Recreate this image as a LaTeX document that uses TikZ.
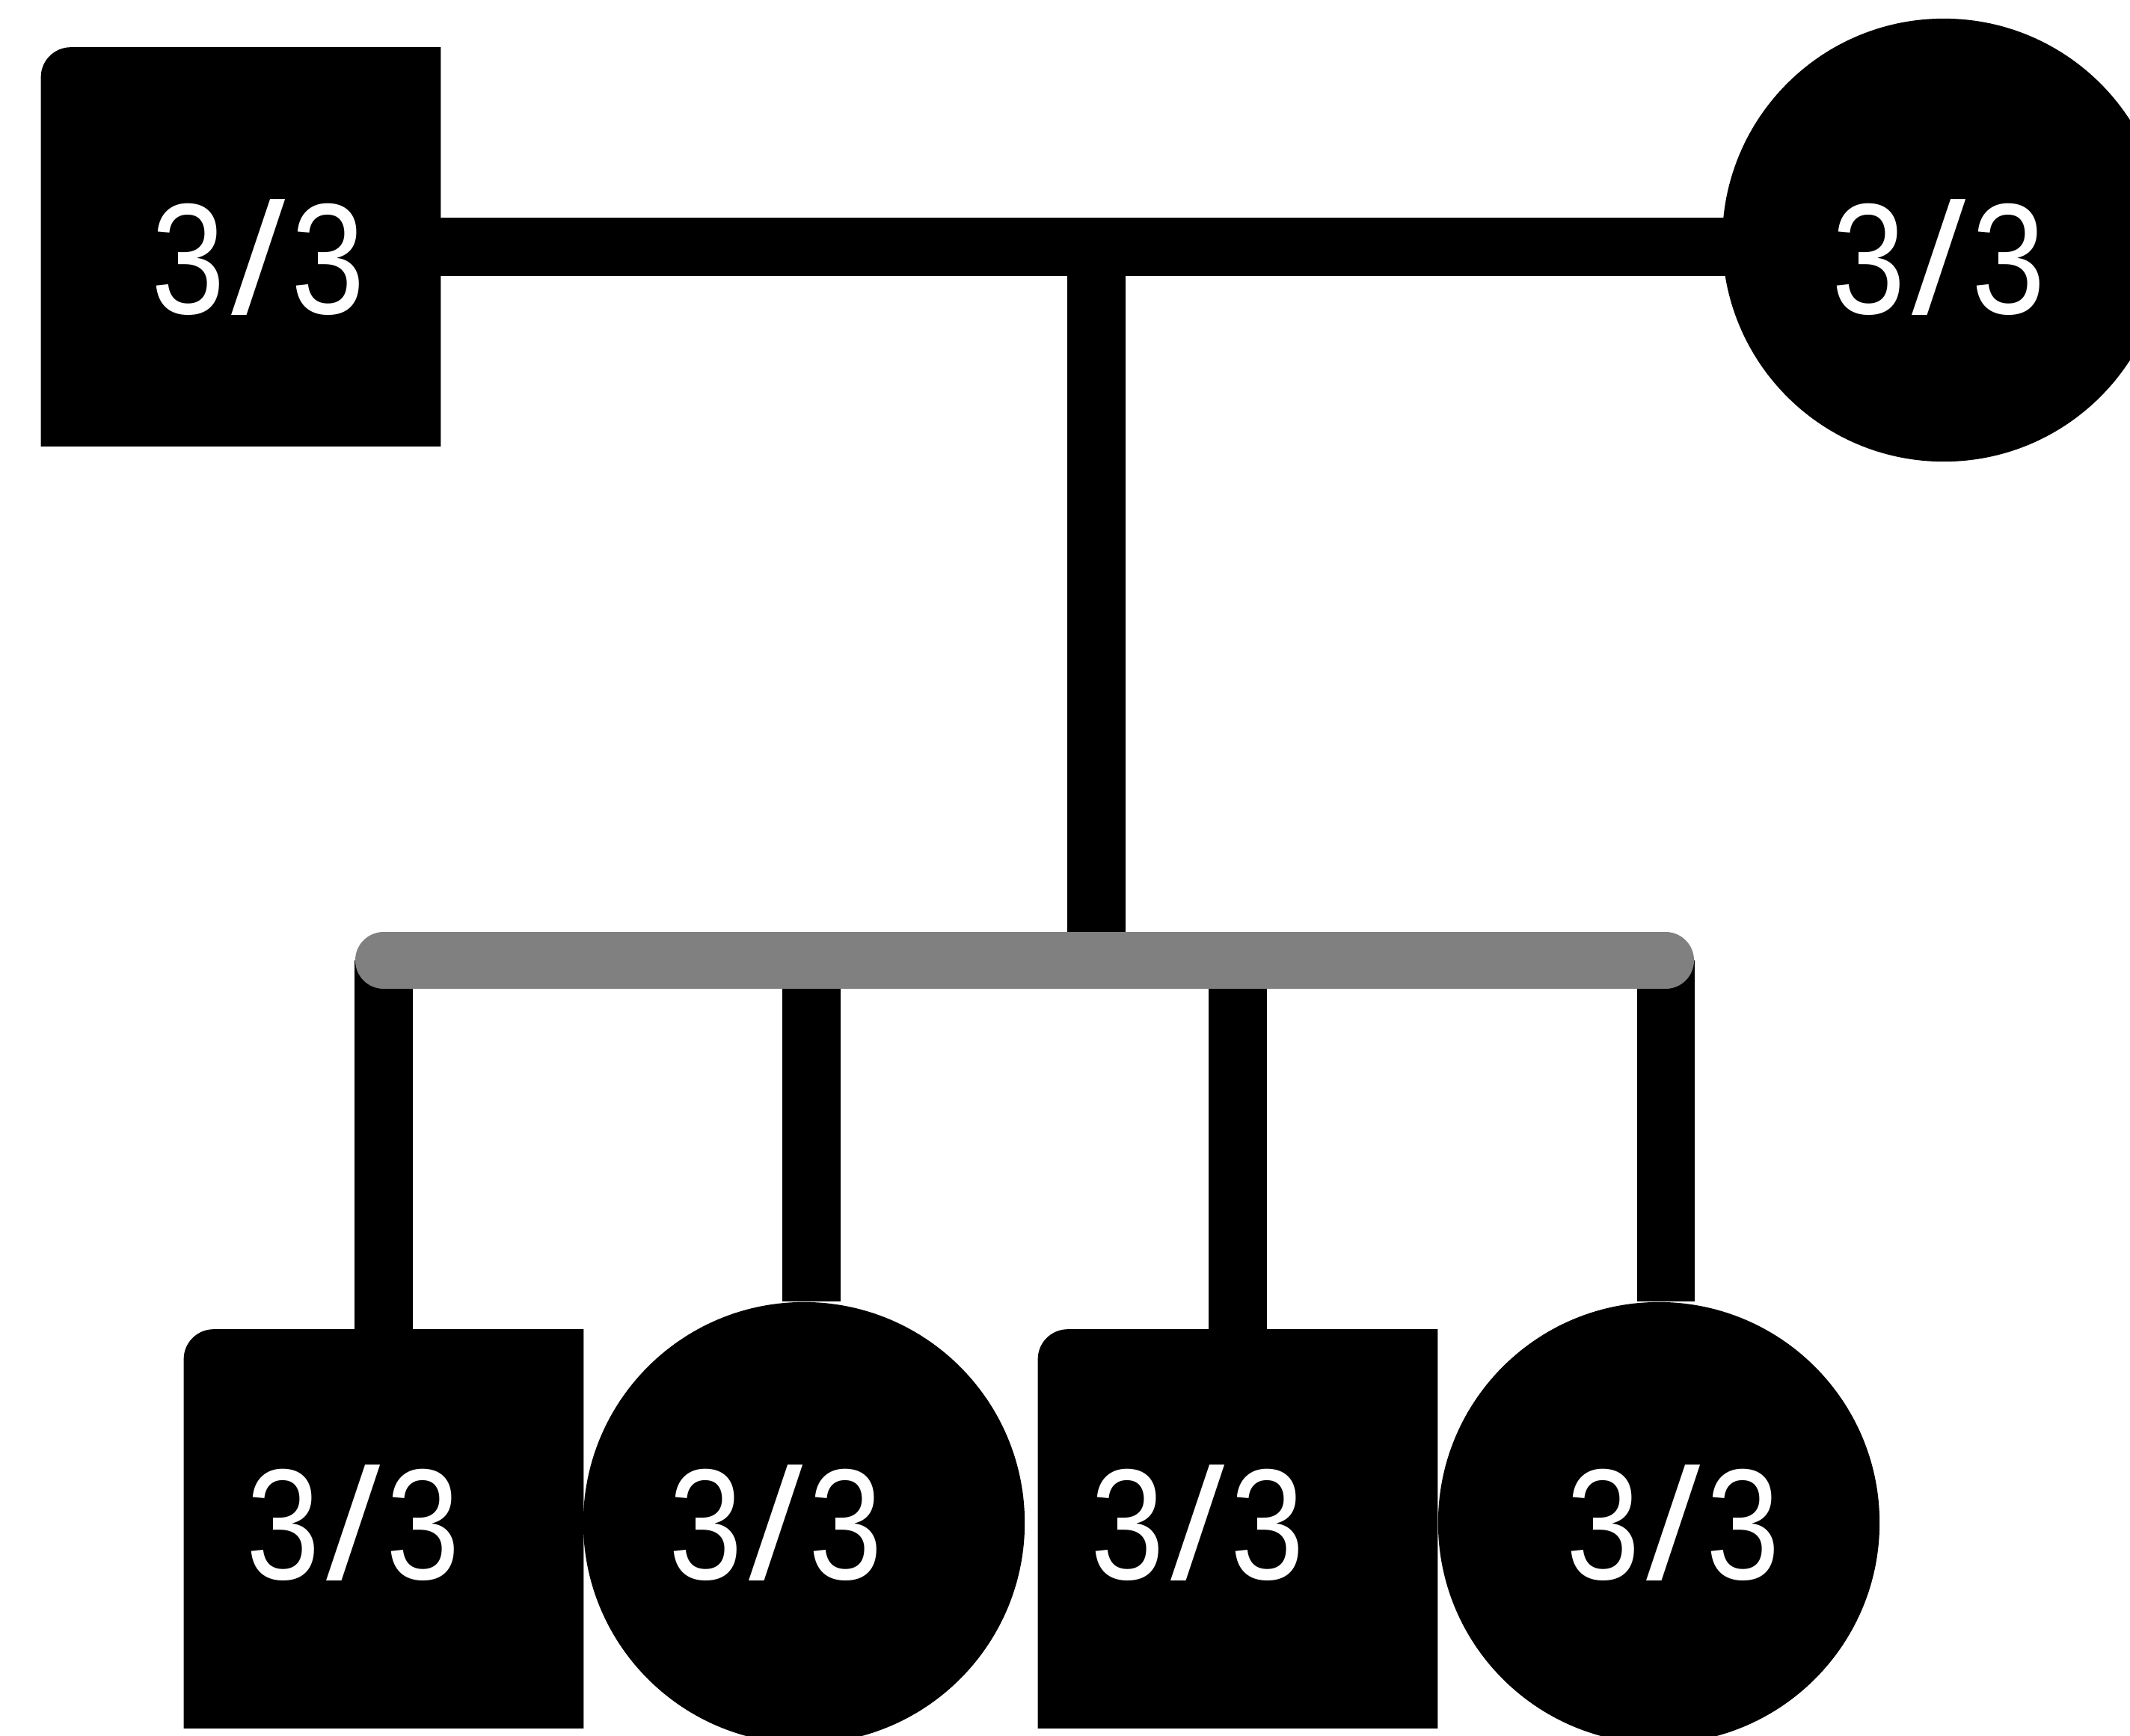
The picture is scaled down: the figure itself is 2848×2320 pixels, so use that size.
\documentclass[tikz,border=0pt]{standalone}
\usepackage{fontspec}
\setmainfont{Liberation Sans}
\usetikzlibrary{backgrounds}
\definecolor{bargray}{HTML}{808080}
\newcommand{\gtxt}{\scalebox{0.84}[1]{3}\kern2.6pt\scalebox{1.23}[1]{/}\kern2.1pt\scalebox{0.84}[1]{3}}
\begin{document}
\begin{tikzpicture}[x=0.01cm,y=-0.01cm,
  sqbox/.style={rectangle, minimum width=5.33cm, minimum height=5.32cm, inner sep=0pt, draw=none},
  circbox/.style={circle, minimum size=5.9cm, inner sep=0pt, fill=black},
  sqfill/.style={fill=black},
  lbl/.style={text=white, font=\fontsize{60}{72}\selectfont, inner sep=0pt},
  link/.style={line width=0.77cm, draw=black},
  sibbar/.style={line width=0.76cm, draw=bargray, line cap=round}]
\useasboundingbox (0,0) rectangle (2848,2320);
\clip (0,0) rectangle (2848,2320);
% parents
\node[sqbox] (fa) at (322,330) {};
\fill[sqfill] (fa.south west) [rounded corners=0.4cm] -- (fa.north west) [sharp corners] -- (fa.north east) -- (fa.south east) -- cycle;
\node[circbox, minimum size=5.92cm] (mo) at (2599,321) {};
% children
\node[sqbox] (s1) at (513,2044) {};
\fill[sqfill] (s1.south west) [rounded corners=0.4cm] -- (s1.north west) [sharp corners] -- (s1.north east) -- (s1.south east) -- cycle;
\node[circbox] (d1) at (1075,2036) {};
\node[sqbox] (s2) at (1655,2044) {};
\fill[sqfill] (s2.south west) [rounded corners=0.4cm] -- (s2.north west) [sharp corners] -- (s2.north east) -- (s2.south east) -- cycle;
\node[circbox] (d2) at (2218,2036) {};
% labels
\node[lbl] (tfa) at (345,344) {\gtxt};
\node[lbl] (tmo) at (2592,344) {\gtxt};
\node[lbl] (ts1) at (472,2036) {\gtxt};
\node[lbl] (td1) at (1037,2036) {\gtxt};
\node[lbl] (ts2) at (1601,2036) {\gtxt};
\node[lbl] (td2) at (2237,2036) {\gtxt};
% connectors
\coordinate (cm) at (1466,330);
\coordinate (b1) at (513,1284);
\coordinate (b2) at (1085,1284);
\coordinate (b3) at (1655,1284);
\coordinate (b4) at (2227,1284);
\begin{scope}[on background layer]
\draw[link] (fa.east) -- (fa.east -| mo.center);
\draw[link] (cm) -- (cm |- b1);
\draw[link] (b1) -- (b1 |- s1.north);
\draw[link] (b2) -- (b2 |- d1.north);
\draw[link] (b3) -- (b3 |- s2.north);
\draw[link] (b4) -- (b4 |- d2.north);
\draw[sibbar] (b1) -- (b4);
\end{scope}
\end{tikzpicture}
\end{document}
